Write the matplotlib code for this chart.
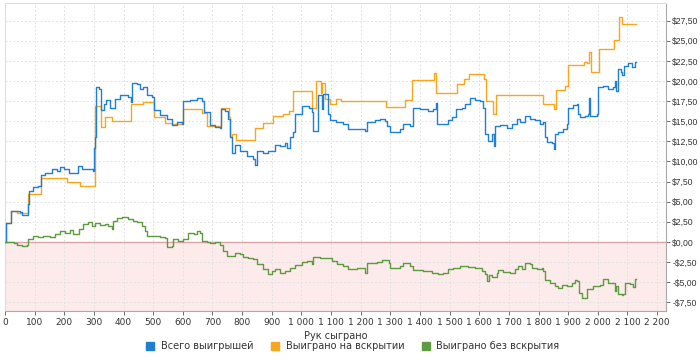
import matplotlib
matplotlib.use("Agg")
import matplotlib.pyplot as plt
from matplotlib.ticker import FuncFormatter, MultipleLocator
from matplotlib.lines import Line2D

# total winnings (blue)
blue_hands = [0, 2, 20, 50, 57, 79, 82, 95, 110, 120, 135, 160, 175, 186, 200, 215, 230, 245, 260, 285,
              298, 301, 305, 308, 318, 325, 335, 341, 355, 371, 388, 416, 425, 428, 444, 456, 465, 478, 495,
              503, 523, 546, 562, 579, 596, 602, 624, 647, 664, 671, 692, 709, 725, 729, 743, 754, 759, 765,
              776, 793, 815, 838, 843, 849, 872, 888, 911, 928, 945, 952, 962, 973, 978, 1001, 1024, 1035,
              1040, 1057, 1068, 1071, 1074, 1090, 1096, 1118, 1141, 1158, 1186, 1215, 1220, 1248, 1265,
              1282, 1288, 1299, 1321, 1333, 1344, 1366, 1375, 1400, 1428, 1445, 1454, 1459, 1479, 1496,
              1507, 1522, 1541, 1552, 1569, 1585, 1602, 1611, 1619, 1631, 1642, 1650, 1653, 1670, 1692,
              1709, 1726, 1737, 1754, 1771, 1788, 1805, 1814, 1822, 1827, 1844, 1852, 1856, 1867, 1884,
              1895, 1900, 1917, 1929, 1933, 1939, 1956, 1967, 1970, 1975, 1996, 2001, 2018, 2035, 2052,
              2058, 2063, 2069, 2077, 2083, 2088, 2103, 2114, 2125, 2130]
blue_vals = [0, 2.4, 3.85, 3.7, 3.3, 4.7, 6.3, 6.8, 7.0, 8.3, 8.6, 9.0, 8.8, 9.3, 9.0, 8.6, 8.5, 9.4, 9.1, 9.0,
             8.8, 11.7, 13.0, 19.2, 19.0, 16.4, 17.1, 17.6, 16.7, 17.8, 18.2, 18.0, 17.4, 19.8, 19.6, 19.0,
             19.2, 18.2, 18.0, 16.4, 15.8, 15.3, 14.5, 14.9, 14.6, 17.5, 17.6, 17.9, 17.5, 16.1, 14.5, 14.3,
             14.1, 16.5, 16.3, 15.3, 13.0, 11.0, 12.0, 11.3, 10.7, 10.3, 9.5, 11.3, 11.1, 11.3, 12.0, 11.9,
             12.3, 11.7, 13.0, 13.6, 15.9, 16.9, 16.7, 16.1, 13.8, 18.2, 17.5, 16.5, 18.4, 15.9, 15.1, 14.9,
             14.7, 14.0, 14.0, 13.8, 14.9, 15.1, 15.3, 15.0, 14.4, 13.6, 13.7, 14.0, 14.6, 14.4, 16.7, 16.5,
             16.3, 16.5, 17.3, 14.6, 14.7, 15.1, 15.5, 16.5, 16.7, 17.1, 17.9, 17.7, 17.5, 16.7, 13.4, 12.6,
             13.4, 11.9, 14.4, 14.5, 14.2, 14.6, 15.3, 14.9, 15.6, 15.3, 15.1, 14.6, 14.9, 13.0, 12.4, 12.3,
             11.6, 13.4, 13.6, 14.0, 14.6, 16.7, 17.0, 17.1, 15.9, 15.5, 15.7, 15.9, 17.9, 15.7, 15.9, 19.2,
             19.4, 19.0, 19.2, 20.0, 18.8, 21.5, 21.1, 20.7, 21.9, 22.3, 21.7, 22.4, 22.4]

# won at showdown (orange), step breakpoints
orange_hands = [0, 2, 20, 40, 76, 120, 208, 253, 302, 325, 337, 360, 424, 467, 503, 540, 562, 600, 664, 680,
                729, 757, 760, 765, 780, 843, 872, 905, 938, 958, 970, 1035, 1050, 1065, 1070, 1080, 1097,
                1115, 1135, 1285, 1350, 1372, 1448, 1455, 1525, 1548, 1567, 1615, 1622, 1648, 1655, 1815,
                1853, 1858, 1890, 1900, 1955, 1965, 1970, 1978, 2005, 2055, 2072, 2083, 2130]
orange_vals = [0, 2.4, 3.85, 3.6, 6.0, 8.0, 7.5, 7.0, 16.9, 14.3, 15.5, 15.0, 17.1, 17.4, 15.5, 14.8, 14.6,
               16.5, 16.0, 14.4, 16.6, 15.5, 13.0, 13.4, 12.7, 14.2, 14.8, 15.6, 15.9, 16.3, 18.8, 16.7, 20.0,
               18.5, 19.7, 17.8, 17.2, 17.8, 17.5, 16.8, 17.7, 20.1, 21.0, 18.5, 19.6, 20.3, 20.9, 20.2, 17.5,
               15.9, 18.2, 17.2, 16.5, 18.9, 19.4, 22.0, 22.4, 22.3, 23.6, 21.1, 24.0, 25.1, 27.9, 27.1, 27.1]

# won without showdown (green)
green_hands = [0, 2, 30, 39, 56, 73, 76, 96, 113, 129, 152, 169, 186, 203, 219, 231, 248, 262, 281, 292, 304,
               321, 338, 349, 360, 366, 377, 394, 416, 433, 444, 461, 472, 478, 500, 523, 540, 546, 562, 568,
               585, 602, 619, 636, 647, 658, 664, 681, 692, 709, 725, 737, 748, 770, 776, 793, 804, 821, 838,
               849, 872, 888, 900, 911, 928, 945, 962, 978, 1001, 1018, 1035, 1040, 1063, 1091, 1102, 1119,
               1141, 1158, 1186, 1215, 1220, 1254, 1271, 1294, 1299, 1321, 1333, 1344, 1366, 1378, 1411,
               1440, 1462, 1479, 1496, 1513, 1535, 1563, 1585, 1608, 1619, 1627, 1634, 1642, 1659, 1664,
               1681, 1704, 1721, 1732, 1743, 1754, 1771, 1777, 1794, 1811, 1816, 1822, 1839, 1856, 1867,
               1878, 1895, 1912, 1923, 1931, 1938, 1946, 1962, 1965, 1985, 2007, 2018, 2035, 2052, 2058,
               2063, 2069, 2080, 2086, 2091, 2108, 2119, 2125, 2130]
green_vals = [0, 0, -0.1, -0.37, -0.5, -0.37, 0.33, 0.67, 0.54, 0.75, 0.54, 0.96, 1.29, 1.16, 1.45, 0.96,
              1.58, 2.28, 2.41, 1.99, 2.32, 2.12, 2.2, 1.91, 1.58, 2.61, 3.02, 3.15, 2.82, 2.61, 2.41, 1.99,
              1.37, 0.75, 0.67, 0.54, 0.46, -0.62, -0.5, 0.33, 0.12, 0.33, 1.08, 0.96, 1.29, 1.08, 0.12, 0.04,
              -0.2, -0.04, -0.37, -1.12, -1.74, -1.74, -1.33, -1.53, -1.87, -1.95, -2.16, -2.78, -3.4, -4.02,
              -3.6, -3.4, -3.82, -3.6, -3.2, -2.9, -2.45, -2.37, -2.78, -1.87, -1.95, -2.03, -2.37, -2.78,
              -2.99, -3.4, -3.28, -3.82, -2.57, -2.45, -2.28, -2.57, -3.28, -3.2, -2.99, -2.57, -2.99, -3.53,
              -3.6, -3.82, -3.94, -3.82, -3.4, -3.2, -2.99, -3.07, -3.2, -3.6, -4.02, -4.85, -4.11, -4.36,
              -3.82, -3.53, -3.74, -3.82, -3.4, -2.99, -3.4, -2.57, -2.7, -3.28, -3.4, -3.28, -3.6, -4.77,
              -5.06, -5.47, -5.77, -5.35, -5.47, -5.18, -4.77, -4.85, -6.31, -6.93, -6.85, -5.89, -5.47,
              -5.35, -4.65, -5.06, -5.06, -6.1, -5.47, -6.52, -6.6, -6.43, -5.18, -5.27, -5.6, -4.65, -4.65]

labels = ["Всего выигрышей", "Выиграно на вскрытии", "Выиграно без вскрытия"]
colors = ["#1f7fd3", "#f9a51e", "#5d9b3f"]

plt.rcParams['font.family'] = ['DejaVu Sans']

fig = plt.figure(figsize=(7, 3.6), dpi=100)
ax = fig.add_axes([5 / 700, 1 - 311 / 360, 661 / 700, 308 / 360])

ymin, ymax = -8.6, 29.7
ax.set_xlim(0, 2230)
ax.set_ylim(ymin, ymax)

# negative zone
ax.axhspan(ymin, 0, color="#fdeaea", zorder=0, lw=0)
ax.axhline(0, color="#d8a4a4", lw=1, zorder=1)

ax.plot(orange_hands, orange_vals, color=colors[1], lw=1, drawstyle="steps-post", zorder=2)
ax.plot(blue_hands, blue_vals, color=colors[0], lw=1, drawstyle="steps-post", zorder=3)
ax.plot(green_hands, green_vals, color=colors[2], lw=1, drawstyle="steps-post", zorder=3)

ax.xaxis.set_major_locator(MultipleLocator(100))
ax.yaxis.set_major_locator(MultipleLocator(2.5))
ax.xaxis.set_major_formatter(FuncFormatter(lambda v, p: f"{int(v):,}".replace(",", " ")))


def money(v, p):
    s = f"${abs(v):.2f}".replace(".", ",")
    return ("-" + s) if v < -1e-9 else s


ax.yaxis.set_major_formatter(FuncFormatter(money))
ax.yaxis.tick_right()
ax.tick_params(axis="x", labelsize=6.5, colors="#555555", labelcolor="#333333", length=3, width=0.6, pad=2)
ax.tick_params(axis="y", labelsize=6.2, colors="#555555", labelcolor="#333333", length=3, width=0.6, pad=1.5)
for t in ax.get_yticklabels():
    t.set_fontfamily("Liberation Sans")

ax.grid(True, color="#e2e2e2", lw=0.7, linestyle=(0, (2, 2)))
ax.set_axisbelow(True)
for side in ["top", "left"]:
    ax.spines[side].set_color("#dddddd")
for side in ["right", "bottom"]:
    ax.spines[side].set_color("#aaaaaa")
for sp in ax.spines.values():
    sp.set_linewidth(0.8)

ax.set_xlabel("Рук сыграно", fontsize=7, color="#333333", labelpad=3)

handles = [Line2D([], [], marker="s", ls="", color=c, markersize=6) for c in colors]
fig.legend(handles, labels, loc="center", bbox_to_anchor=(0.5, 1 - 346 / 360), ncol=3, frameon=False,
           fontsize=7, handletextpad=0.1, columnspacing=1.2, labelcolor="#333333")

fig.savefig("out.png", dpi=100)
plt.close(fig)
